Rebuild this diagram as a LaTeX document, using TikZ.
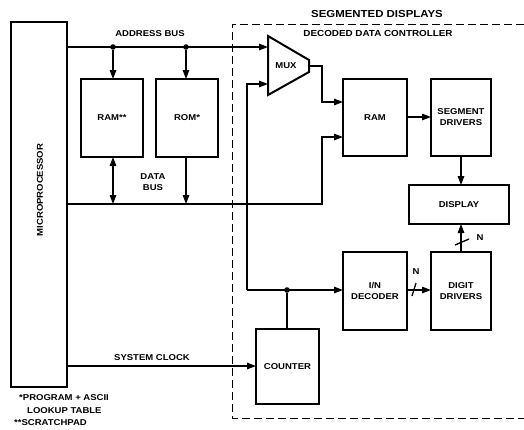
\documentclass[tikz,border=0pt]{standalone}
\usepackage{fontspec}
\setmainfont{Liberation Sans}[FakeStretch=1.12]
\usetikzlibrary{arrows.meta}
\tikzset{
  blk/.style={draw, line width=2pt, inner sep=0pt, outer sep=0pt, align=center, font=\fontsize{8.5}{11}\selectfont\bfseries},
  lbl/.style={inner sep=0pt, align=center, font=\fontsize{8.5}{11}\selectfont\bfseries},
  wire/.style={line width=1.3pt},
  arr/.style={wire, -{Triangle[length=9pt,width=6.5pt]}},
  darr/.style={wire, {Triangle[length=9pt,width=6.5pt]}-{Triangle[length=9pt,width=6.5pt]}},
  dot/.style={circle, fill=black, inner sep=0pt, minimum size=5.6pt},
  frame/.style={line width=1pt, dash pattern=on 8pt off 4pt}
}
\begin{document}
\begin{tikzpicture}[x=1pt,y=-1pt]
\useasboundingbox (0,0) rectangle (524,429);

% dashed controller frame
\draw[frame] (524,24) -- (232,24) -- (232,418) -- (524,418);
\node[lbl, font=\fontsize{10.2}{12}\selectfont\bfseries] (title) at (377,14) {SEGMENTED DISPLAYS};
\node[lbl, font=\fontsize{8.8}{11}\selectfont\bfseries] (ctl) at (378,33) {DECODED DATA CONTROLLER};

% blocks
\node[blk, minimum width=56pt, minimum height=365pt] (micro) at (39,204.5) {};
\node[lbl, rotate=90] (microlbl) at (40,190) {MICROPROCESSOR};
\node[blk, minimum width=62pt, minimum height=78pt] (ramA) at (112,118) {RAM**};
\node[blk, minimum width=62pt, minimum height=78pt] (rom) at (187,118) {ROM*};
\node[blk, minimum width=64pt, minimum height=77pt] (ram) at (375,117.5) {RAM};
\node[blk, minimum width=60pt, minimum height=77pt] (seg) at (461,117.5) {SEGMENT\\DRIVERS};
\node[blk, minimum width=100pt, minimum height=39pt] (disp) at (459,204.5) {DISPLAY};
\node[blk, minimum width=64pt, minimum height=78pt] (dec) at (375,291) {I/N\\DECODER};
\node[blk, minimum width=60pt, minimum height=78pt] (dig) at (461,291) {DIGIT\\DRIVERS};
\node[blk, minimum width=63pt, minimum height=75pt] (cnt) at (287.5,366.5) {COUNTER};

% MUX
\draw[line width=2pt, line join=miter] (268,36) -- (309,60) -- (309,72) -- (268,95) -- cycle;
\node[lbl] (muxlbl) at (286,66) {MUX};
\coordinate (mux1) at (268,47);
\coordinate (mux2) at (268,84);
\coordinate (muxo) at (309,66);

% address bus
\node[dot] (d1) at (113,47) {};
\node[dot] (d2) at (186,47) {};
\draw[arr] (micro.east |- mux1) -- (mux1);
\draw[arr] (d1) -- (d1 |- ramA.north);
\draw[arr] (d2) -- (d2 |- rom.north);
\node[lbl] (abus) at (150,34) {ADDRESS BUS};

% data bus
\coordinate (db) at (322,204);
\draw[arr] (micro.east |- db) -- (db) -- (322,137) -- (ram.west |- 0,137);
\draw[darr] (d1 |- ramA.south) -- (d1 |- db);
\draw[arr] (d2 |- rom.south) -- (d2 |- db);
\node[lbl] (dbus) at (153,182) {DATA\\BUS};

% mux output to RAM
\draw[arr] (muxo) -- (322,66) -- (322,102) -- (ram.west |- 0,102);

% counter / decoder / mux select
\node[dot] (jn) at (287,290) {};
\draw[arr] (dec.west |- jn) ++(-96,0) coordinate (cl) -- (dec.west |- jn);
\draw[arr] (cl) -- (247,84) -- (mux2);
\draw[wire] (jn) -- (jn |- cnt.north);

% system clock
\coordinate (clk) at (0,366);
\draw[arr] (micro.east |- clk) -- (cnt.west |- clk);
\node[lbl] (sclk) at (152,358) {SYSTEM CLOCK};

% controller internals
\coordinate (rs) at (0,117);
\draw[arr] (ram.east |- rs) -- (seg.west |- rs);
\draw[arr] (seg.south) -- (seg.south |- disp.north);
\draw[arr] (dec.east |- jn) -- (dig.west |- jn);
\draw[arr] (dig.north) -- (dig.north |- disp.south);
\draw[wire] (412,296) -- (416,283);
\node[lbl] (n1) at (416,272) {N};
\draw[wire] (455,245) -- (469,239);
\node[lbl] (n2) at (480,238) {N};

% footnotes
\node[lbl, anchor=west] (f1) at (19,398) {*PROGRAM + ASCII};
\node[lbl, anchor=west] (f2) at (27,411) {LOOKUP TABLE};
\node[lbl, anchor=west] (f3) at (14,423) {**SCRATCHPAD};
\end{tikzpicture}
\end{document}
